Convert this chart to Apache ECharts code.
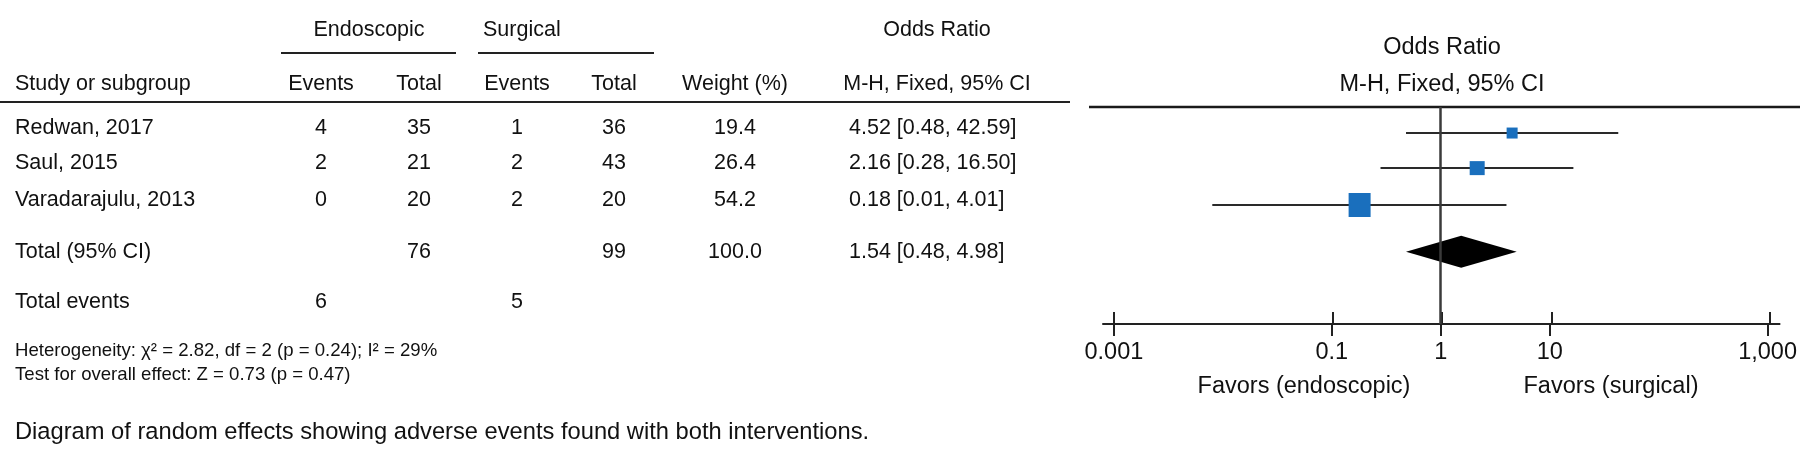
<!DOCTYPE html>
<html>
<head>
<meta charset="utf-8">
<script src="https://cdn.jsdelivr.net/npm/echarts@6/dist/echarts.min.js"></script>
<style>
html,body{margin:0;padding:0;background:#fff;}
#chart{width:1800px;height:467px;}
</style>
</head>
<body>
<div id="chart"></div>
<script>
// ---- data ----
const studies = ['Redwan, 2017', 'Saul, 2015', 'Varadarajulu, 2013'];
const endoEvents = [4, 2, 0];
const endoTotal = [35, 21, 20];
const surgEvents = [1, 2, 2];
const surgTotal = [36, 43, 20];
const weights = [19.4, 26.4, 54.2];
const oddsRatios = [4.52, 2.16, 0.18];
const ciLow = [0.48, 0.28, 0.008];
const ciHigh = [42.59, 16.50, 4.01];
const totalEndo = 76;
const totalSurg = 99;
const totalWeight = 100.0;
const totalOR = 1.54;
const totalLow = 0.48;
const totalHigh = 4.98;
const totalEventsEndo = 6;
const totalEventsSurg = 5;
const tickValues = [0.001, 0.1, 1, 10, 1000];
const tickLabels = ['0.001', '0.1', '1', '10', '1,000'];
const heterogeneityText = 'Heterogeneity: \u03c7\u00b2 = 2.82, df = 2 (p = 0.24); I\u00b2 = 29%';
const overallText = 'Test for overall effect: Z = 0.73 (p = 0.47)';
const captionText = 'Diagram of random effects showing adverse events found with both interventions.';

// ---- layout constants ----
const FONT = '"Liberation Sans", Arial, Helvetica, sans-serif';
const TXT = '#111';
const ROW_Y = [128, 163, 200];
const ROW_POS = [0.72, 1.69, 2.71]; // forest rows in y-axis units
const TOTAL_POS = 4.0;

function fmtOR(o, l, h) { return o.toFixed(2) + ' [' + l.toFixed(2) + ', ' + h.toFixed(2) + ']'; }

const g = [];
function txt(s, x, y, size, align) {
  g.push({type: 'text', x: x, y: y, silent: true,
    style: {text: String(s), font: size + 'px ' + FONT, fill: TXT,
      textAlign: align || 'left', textVerticalAlign: 'middle'}});
}
function hline(x1, x2, y, w, c) {
  g.push({type: 'line', silent: true, shape: {x1: x1, y1: y, x2: x2, y2: y},
    style: {stroke: c || '#222', lineWidth: w || 2}});
}

const T = 21.5;
// group headers
txt('Endoscopic', 369, 30, T, 'center');
txt('Surgical', 483, 30, T, 'left');
txt('Odds Ratio', 937, 30, T, 'center');
hline(281, 456, 53, 2);
hline(478, 654, 53, 2);
// column headers
txt('Study or subgroup', 15, 84, T, 'left');
txt('Events', 321, 84, T, 'center');
txt('Total', 419, 84, T, 'center');
txt('Events', 517, 84, T, 'center');
txt('Total', 614, 84, T, 'center');
txt('Weight (%)', 735, 84, T, 'center');
txt('M-H, Fixed, 95% CI', 937, 84, T, 'center');
hline(0, 1070, 102, 2.2);
// rows
studies.forEach(function (s, i) {
  const y = ROW_Y[i];
  txt(s, 15, y, T, 'left');
  txt(endoEvents[i], 321, y, T, 'center');
  txt(endoTotal[i], 419, y, T, 'center');
  txt(surgEvents[i], 517, y, T, 'center');
  txt(surgTotal[i], 614, y, T, 'center');
  txt(weights[i].toFixed(1), 735, y, T, 'center');
  txt(fmtOR(oddsRatios[i], ciLow[i], ciHigh[i]), 849, y, T, 'left');
});
txt('Total (95% CI)', 15, 252, T, 'left');
txt(totalEndo, 419, 252, T, 'center');
txt(totalSurg, 614, 252, T, 'center');
txt(totalWeight.toFixed(1), 735, 252, T, 'center');
txt(fmtOR(totalOR, totalLow, totalHigh), 849, 252, T, 'left');
txt('Total events', 15, 302, T, 'left');
txt(totalEventsEndo, 321, 302, T, 'center');
txt(totalEventsSurg, 517, 302, T, 'center');
txt(heterogeneityText, 15, 351, 18.6, 'left');
txt(overallText, 15, 375, 18.6, 'left');
txt(captionText, 15, 432, 23.7, 'left');

// forest titles
const F = 23.5;
txt('Odds Ratio', 1442, 48, F, 'center');
txt('M-H, Fixed, 95% CI', 1442, 85, F, 'center');
hline(1089, 1800, 107, 2.5, '#1a1a1a');
txt('Favors (endoscopic)', 1304, 387, F, 'center');
txt('Favors (surgical)', 1611, 387, F, 'center');

function tickLabel(v) {
  let best = 0, bd = Infinity;
  tickValues.forEach(function (t, i) {
    const d = Math.abs(Math.log10(v) - Math.log10(t));
    if (d < bd) { bd = d; best = i; }
  });
  return tickLabels[best];
}

const ciData = studies.map(function (s, i) { return [ciLow[i], ciHigh[i], ROW_POS[i]]; });
const sqData = studies.map(function (s, i) { return [oddsRatios[i], ROW_POS[i]]; });
const SQ_SIZES = [[11, 11], [15, 14], [22, 24]];

const xMin = Math.pow(10, -3.1), xMax = Math.pow(10, 3.11);
const gridBox = {left: 1103, right: 18, top: 107, bottom: 143};

const chart = echarts.init(document.getElementById('chart'), null, {renderer: 'canvas'});
chart.setOption({
  animation: false,
  backgroundColor: '#fff',
  grid: [Object.assign({}, gridBox), Object.assign({}, gridBox)],
  xAxis: [{
    gridIndex: 0, type: 'log', logBase: 10, min: xMin, max: xMax, position: 'bottom',
    axisLine: {show: true, onZero: false, lineStyle: {color: '#222', width: 2}},
    axisTick: {show: true, length: 12, inside: false, customValues: tickValues, lineStyle: {color: '#222', width: 2}},
    axisLabel: {show: true, customValues: tickValues, margin: 17, fontSize: F, fontFamily: FONT, color: TXT,
      formatter: function (v) { return tickLabel(v); }},
    splitLine: {show: false}, minorTick: {show: false}
  }, {
    gridIndex: 1, type: 'log', logBase: 10, min: xMin, max: xMax, position: 'bottom',
    axisLine: {show: false, onZero: false},
    axisTick: {show: true, length: 12, inside: true, customValues: tickValues, lineStyle: {color: '#222', width: 2}},
    axisLabel: {show: false}, splitLine: {show: false}, minorTick: {show: false}
  }],
  yAxis: [
    {gridIndex: 0, type: 'value', min: 0, max: 6, inverse: true, show: false},
    {gridIndex: 1, type: 'value', min: 0, max: 6, inverse: true, show: false}
  ],
  series: [{
    type: 'custom', xAxisIndex: 0, yAxisIndex: 0, silent: true, clip: false,
    data: ciData,
    encode: {x: [0, 1], y: 2},
    renderItem: function (params, api) {
      const a = api.coord([api.value(0), api.value(2)]);
      const b = api.coord([api.value(1), api.value(2)]);
      return {type: 'line', shape: {x1: a[0], y1: a[1], x2: b[0], y2: b[1]},
        style: {stroke: '#2a2a2a', lineWidth: 2}};
    },
    markLine: {
      silent: true, symbol: 'none', label: {show: false},
      lineStyle: {color: '#3a3a3a', width: 2.5, type: 'solid'},
      data: [{xAxis: 1}]
    },
    z: 2
  }, {
    type: 'scatter', xAxisIndex: 0, yAxisIndex: 0, silent: true,
    data: sqData.map(function (d, i) { return {value: d, symbolSize: SQ_SIZES[i]}; }),
    symbol: 'rect',
    itemStyle: {color: '#1a6fbd', opacity: 1},
    z: 3
  }, {
    type: 'custom', xAxisIndex: 0, yAxisIndex: 0, silent: true, clip: false,
    data: [[totalLow, totalOR, totalHigh, TOTAL_POS]],
    encode: {x: [0, 1, 2], y: 3},
    renderItem: function (params, api) {
      const l = api.coord([api.value(0), api.value(3)]);
      const c = api.coord([api.value(1), api.value(3)]);
      const h = api.coord([api.value(2), api.value(3)]);
      const hh = 16;
      return {type: 'polygon', shape: {points: [[l[0], l[1]], [c[0], c[1] - hh], [h[0], h[1]], [c[0], c[1] + hh]]},
        style: {fill: '#000'}};
    },
    z: 4
  }],
  graphic: g
});
</script>
</body>
</html>
